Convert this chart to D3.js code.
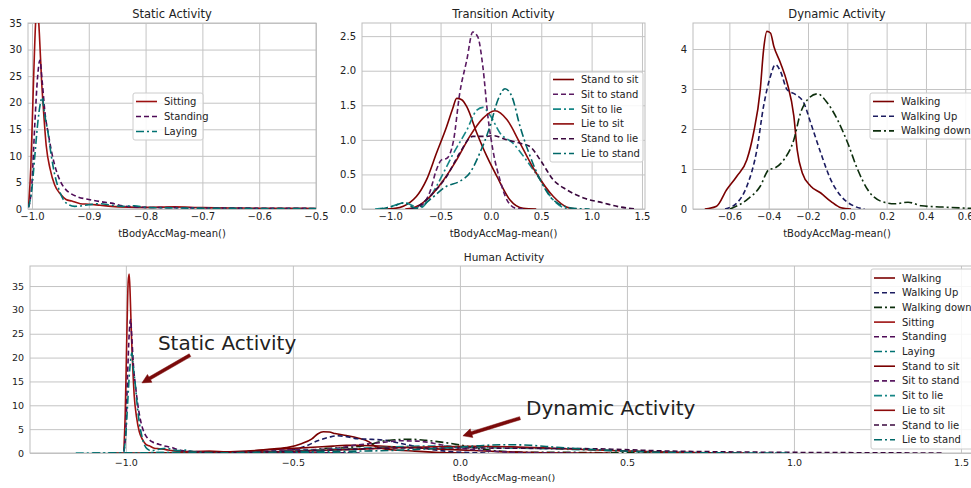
<!DOCTYPE html>
<html>
<head>
<meta charset="utf-8">
<script src="https://cdn.jsdelivr.net/npm/d3@7"></script>
<style>
body { margin: 0; background: #fff; }
text { font-family: "DejaVu Sans", sans-serif; fill: #222; }
</style>
</head>
<body>
<svg width="971" height="488"></svg>
<script>
// density curves, [x, density]
let sitting = [[-1.006,0.5],[-1.002,8],[-0.997,25],[-0.993,36],[-0.990,37.5],[-0.987,33],[-0.983,24],[-0.980,19],[-0.975,12],
  [-0.968,7.5],[-0.960,4.5],[-0.950,2.8],[-0.940,1.8],[-0.930,1.5],[-0.915,1.0],[-0.900,0.9],[-0.880,0.7],[-0.860,0.5],
  [-0.830,0.35],[-0.800,0.3],[-0.750,0.4],[-0.700,0.25],[-0.650,0.2],[-0.600,0.15],[-0.550,0.15],[-0.500,0.1],[-0.450,0.05],[-0.350,0]];
let standing = [[-1.006,0.3],[-1.000,5],[-0.995,16],[-0.990,25],[-0.986,28],[-0.982,24],[-0.977,18],[-0.971,14],[-0.965,10.5],
  [-0.958,7.5],[-0.950,5.2],[-0.940,3.6],[-0.930,2.8],[-0.920,2.3],[-0.900,1.8],[-0.880,1.4],[-0.860,1.1],[-0.840,0.6],
  [-0.820,0.4],[-0.800,0.3],[-0.750,0.25],[-0.700,0.2],[-0.600,0.15],[-0.500,0.1],[-0.400,0.05],[-0.300,0]];
let laying = [[-1.006,0.3],[-1.000,4],[-0.995,10],[-0.990,16],[-0.985,20],[-0.982,21],[-0.978,18],[-0.972,14.5],[-0.966,10],
  [-0.960,6.5],[-0.952,3.5],[-0.945,1.8],[-0.935,0.8],[-0.925,0.5],[-0.900,0.8],[-0.880,1.0],[-0.860,0.7],[-0.840,0.5],
  [-0.820,0.6],[-0.800,0.3],[-0.750,0.2],[-0.700,0.15],[-0.600,0.1],[-0.500,0.08],[-0.400,0.03],[-0.300,0]];

let standToSit = [[-1.05,0],[-0.95,0.01],[-0.87,0.04],[-0.80,0.1],[-0.74,0.18],[-0.64,0.42],[-0.54,0.81],[-0.44,1.19],[-0.38,1.45],
  [-0.34,1.6],[-0.29,1.58],[-0.24,1.48],[-0.14,1.1],[-0.04,0.76],[0.06,0.47],[0.19,0.13],[0.32,0.01],[0.45,0]];
let sitToStand = [[-0.78,0],[-0.70,0.04],[-0.61,0.23],[-0.54,0.57],[-0.49,0.71],[-0.44,0.73],[-0.37,1.0],[-0.31,1.67],[-0.24,2.15],
  [-0.18,2.56],[-0.13,2.49],[-0.08,2.06],[-0.03,1.34],[0.02,0.85],[0.09,0.42],[0.16,0.13],[0.25,0.01],[0.35,0]];
let sitToLie = [[-1.15,0],[-1.0,0.03],[-0.90,0.08],[-0.85,0.09],[-0.78,0.05],[-0.70,0.02],[-0.62,0.13],[-0.54,0.33],[-0.37,0.81],
  [-0.24,1.14],[-0.14,1.43],[-0.08,1.47],[-0.01,1.36],[0.09,1.1],[0.22,0.95],[0.35,0.71],[0.49,0.42],[0.62,0.13],[0.75,0.01],[0.85,0]];
let lieToSit = [[-0.85,0],[-0.75,0.03],[-0.64,0.13],[-0.47,0.42],[-0.34,0.71],[-0.21,1.05],[-0.08,1.31],[0.04,1.42],[0.16,1.29],
  [0.29,0.95],[0.45,0.52],[0.62,0.18],[0.75,0.03],[0.85,0]];
let standToLie = [[-0.80,0],[-0.70,0.06],[-0.61,0.18],[-0.44,0.47],[-0.31,0.81],[-0.18,1.05],[-0.04,1.05],[0.02,1.06],[0.16,1.0],
  [0.29,0.95],[0.39,0.9],[0.49,0.71],[0.62,0.42],[0.75,0.28],[0.92,0.16],[1.11,0.09],[1.28,0.03],[1.45,0]];
let lieToStand = [[-1.10,0],[-0.95,0.05],[-0.87,0.09],[-0.74,0.01],[-0.61,0.13],[-0.44,0.33],[-0.31,0.4],[-0.21,0.52],[-0.11,0.81],
  [-0.01,1.19],[0.07,1.58],[0.14,1.74],[0.21,1.62],[0.29,1.19],[0.39,0.76],[0.49,0.42],[0.62,0.13],[0.82,0.01],[0.98,0]];

let walking = [[-0.725,0],[-0.665,0.07],[-0.614,0.48],[-0.562,0.82],[-0.511,1.23],[-0.477,1.9],[-0.443,2.98],[-0.426,3.98],
  [-0.409,4.44],[-0.391,4.4],[-0.374,4.07],[-0.340,3.65],[-0.306,3.15],[-0.272,2.32],[-0.255,1.48],[-0.229,0.9],[-0.186,0.57],
  [-0.135,0.4],[-0.084,0.19],[-0.032,0.03],[0.019,0]];
let walkingUp = [[-0.622,0],[-0.562,0.15],[-0.511,0.57],[-0.460,1.48],[-0.426,2.57],[-0.391,3.32],[-0.366,3.61],[-0.340,3.44],
  [-0.306,2.98],[-0.263,2.86],[-0.221,2.65],[-0.186,2.15],[-0.135,1.4],[-0.084,0.73],[-0.032,0.32],[0.036,0.07],[0.087,0]];
let walkingDown = [[-0.597,0],[-0.511,0.23],[-0.443,0.57],[-0.400,0.98],[-0.366,1.03],[-0.323,1.23],[-0.272,1.73],[-0.238,2.4],
  [-0.203,2.73],[-0.152,2.88],[-0.101,2.65],[-0.050,2.23],[0.002,1.65],[0.053,0.98],[0.104,0.48],[0.173,0.19],[0.241,0.13],
  [0.309,0.17],[0.378,0.08],[0.480,0.05],[0.608,0.02],[0.68,0.01]];

let staticNames = ["Sitting", "Standing", "Laying"];
let transitionNames = ["Stand to sit", "Sit to stand", "Sit to lie", "Lie to sit", "Stand to lie", "Lie to stand"];
let dynamicNames = ["Walking", "Walking Up", "Walking down"];
let allNames = dynamicNames.concat(staticNames, transitionNames);

let staticXTicks = [-1.0, -0.9, -0.8, -0.7, -0.6, -0.5];
let staticYTicks = [0, 5, 10, 15, 20, 25, 30, 35];
let transXTicks = [-1.0, -0.5, 0.0, 0.5, 1.0, 1.5];
let transYTicks = [0, 0.5, 1.0, 1.5, 2.0, 2.5];
let dynXTicks = [-0.6, -0.4, -0.2, 0.0, 0.2, 0.4, 0.6];
let dynYTicks = [0, 1, 2, 3, 4];
let humanXTicks = [-1.0, -0.5, 0.0, 0.5, 1.0, 1.5];
let humanYTicks = [0, 5, 10, 15, 20, 25, 30, 35];

var solid = null, dashed = "5,3", dashdot = "8,3,2,3";
var styles = {
  "Walking":      {data: walking,     color: "#7a0000", dash: solid},
  "Walking Up":   {data: walkingUp,   color: "#1c1c60", dash: dashed},
  "Walking down": {data: walkingDown, color: "#0c2e0c", dash: dashdot},
  "Sitting":      {data: sitting,     color: "#9c1010", dash: solid},
  "Standing":     {data: standing,    color: "#4e0a56", dash: dashed},
  "Laying":       {data: laying,      color: "#007272", dash: dashdot},
  "Stand to sit": {data: standToSit,  color: "#7a0000", dash: solid},
  "Sit to stand": {data: sitToStand,  color: "#5a1a62", dash: dashed},
  "Sit to lie":   {data: sitToLie,    color: "#168686", dash: dashdot},
  "Lie to sit":   {data: lieToSit,    color: "#8c0a0a", dash: solid},
  "Stand to lie": {data: standToLie,  color: "#3a083e", dash: dashed},
  "Lie to stand": {data: lieToStand,  color: "#006868", dash: dashdot}
};

var svg = d3.select('svg');
var clipId = 0;

function panel(o) {
  var w = o.right - o.left, h = o.bottom - o.top;
  var x = d3.scaleLinear().domain(o.xDomain).range([0, w]);
  var y = d3.scaleLinear().domain(o.yDomain).range([h, 0]);
  var g = svg.append("g").attr("transform", `translate(${o.left},${o.top})`);

  var xAxis = g.append("g").attr("transform", `translate(0,${h})`)
    .call(d3.axisBottom(x).tickValues(o.xTicks).tickFormat(d3.format(".1f")).tickSize(-h).tickPadding(o.xPad));
  var yAxis = g.append("g")
    .call(d3.axisLeft(y).tickValues(o.yTicks).tickFormat(d3.format(o.yFmt)).tickSize(-w).tickPadding(6));
  [xAxis, yAxis].forEach(a => {
    a.select(".domain").remove();
    a.selectAll(".tick line").attr("stroke", "#c4c4c4").attr("stroke-width", 1);
    a.selectAll(".tick text").attr("font-size", o.tickFont).attr("fill", "#222")
      .attr("font-family", "DejaVu Sans");
  });

  g.append("rect").attr("width", w).attr("height", h)
    .attr("fill", "none").attr("stroke", "#bdbdbd").attr("stroke-width", 1);

  clipId++;
  g.append("clipPath").attr("id", "c" + clipId).append("rect").attr("width", w).attr("height", h);
  var line = d3.line().x(d => x(d[0])).y(d => y(d[1])).curve(d3.curveMonotoneX);
  var lines = g.append("g").attr("clip-path", `url(#c${clipId})`);
  o.names.forEach(n => {
    var s = styles[n];
    lines.append("path").attr("d", line(s.data)).attr("fill", "none")
      .attr("stroke", s.color).attr("stroke-width", 1.6)
      .attr("stroke-dasharray", s.dash);
  });

  g.append("text").attr("x", w / 2).attr("y", -5).attr("text-anchor", "middle")
    .attr("font-size", o.titleFont).text(o.title);
  g.append("text").attr("x", w / 2).attr("y", h + o.labelY).attr("text-anchor", "middle")
    .attr("font-size", o.labelFont).text("tBodyAccMag-mean()");

  // legend
  var L = o.legend;
  var lg = g.append("g").attr("transform", `translate(${L.x - o.left},${L.y - o.top})`);
  lg.append("rect").attr("width", L.w).attr("height", L.h).attr("rx", 2)
    .attr("fill", "#fff").attr("fill-opacity", 0.85).attr("stroke", "#cccccc");
  o.names.forEach((n, i) => {
    var s = styles[n], cy = L.first + i * L.row;
    lg.append("line").attr("x1", 3).attr("x2", 24).attr("y1", cy).attr("y2", cy)
      .attr("stroke", s.color).attr("stroke-width", 1.6).attr("stroke-dasharray", s.dash);
    lg.append("text").attr("x", 31).attr("y", cy).attr("dy", "0.35em")
      .attr("font-size", 10).text(n);
  });
  return {g: g, x: x, y: y};
}

panel({left: 28, right: 316, top: 23, bottom: 209, xDomain: [-1.007, -0.5], yDomain: [0, 35],
  xTicks: staticXTicks, yTicks: staticYTicks, yFmt: "d", names: staticNames, title: "Static Activity",
  tickFont: 10, titleFont: 11.5, labelFont: 10, xPad: 4, labelY: 28,
  legend: {x: 133, y: 93, w: 70, h: 47, first: 8.5, row: 15}});

panel({left: 362, right: 645, top: 23, bottom: 209, xDomain: [-1.28, 1.53], yDomain: [0, 2.69],
  xTicks: transXTicks, yTicks: transYTicks, yFmt: ".1f", names: transitionNames, title: "Transition Activity",
  tickFont: 10, titleFont: 11.5, labelFont: 10, xPad: 4, labelY: 28,
  legend: {x: 550, y: 72, w: 93, h: 90, first: 7.5, row: 14.8}});

panel({left: 693, right: 981, top: 23, bottom: 209, xDomain: [-0.785, 0.68], yDomain: [0, 4.65],
  xTicks: dynXTicks, yTicks: dynYTicks, yFmt: "d", names: dynamicNames, title: "Dynamic Activity",
  tickFont: 10, titleFont: 11.5, labelFont: 10, xPad: 4, labelY: 28,
  legend: {x: 870, y: 93, w: 110, h: 46, first: 8.5, row: 14.7}});

var human = panel({left: 30, right: 978, top: 266, bottom: 453, xDomain: [-1.287, 1.551], yDomain: [0, 39.2],
  xTicks: humanXTicks, yTicks: humanYTicks, yFmt: "d", names: allNames, title: "Human Activity",
  tickFont: 9.5, titleFont: 10.5, labelFont: 9.5, xPad: 6, labelY: 28,
  legend: {x: 871, y: 269, w: 112, h: 180, first: 9, row: 14.7}});

// annotations with fat arrows
function annotate(p, label, textAt, tail, tip) {
  p.g.append("text").attr("x", p.x(textAt[0])).attr("y", p.y(textAt[1]))
    .attr("font-size", 20).text(label);
  var x0 = p.x(tail[0]), y0 = p.y(tail[1]), x1 = p.x(tip[0]), y1 = p.y(tip[1]);
  var dx = x1 - x0, dy = y1 - y0, len = Math.hypot(dx, dy);
  var ux = dx / len, uy = dy / len, nx = -uy, ny = ux;
  var hl = 9, hw = 4.5, sw = 1.6;
  var bx = x1 - ux * hl, by = y1 - uy * hl;
  var pts = [[x0 + nx * sw, y0 + ny * sw], [bx + nx * sw, by + ny * sw], [bx + nx * hw, by + ny * hw], [x1, y1],
    [bx - nx * hw, by - ny * hw], [bx - nx * sw, by - ny * sw], [x0 - nx * sw, y0 - ny * sw]];
  p.g.append("polygon").attr("points", pts.map(q => q.join(",")).join(" "))
    .attr("fill", "#7a0a0a").attr("stroke", "#7a0a0a").attr("stroke-width", 0.5);
}
annotate(human, "Static Activity", [-0.904, 21.6], [-0.808, 20.5], [-0.952, 14.7]);
annotate(human, "Dynamic Activity", [0.198, 8.0], [0.180, 7.3], [0.009, 3.6]);
</script>
</body>
</html>
